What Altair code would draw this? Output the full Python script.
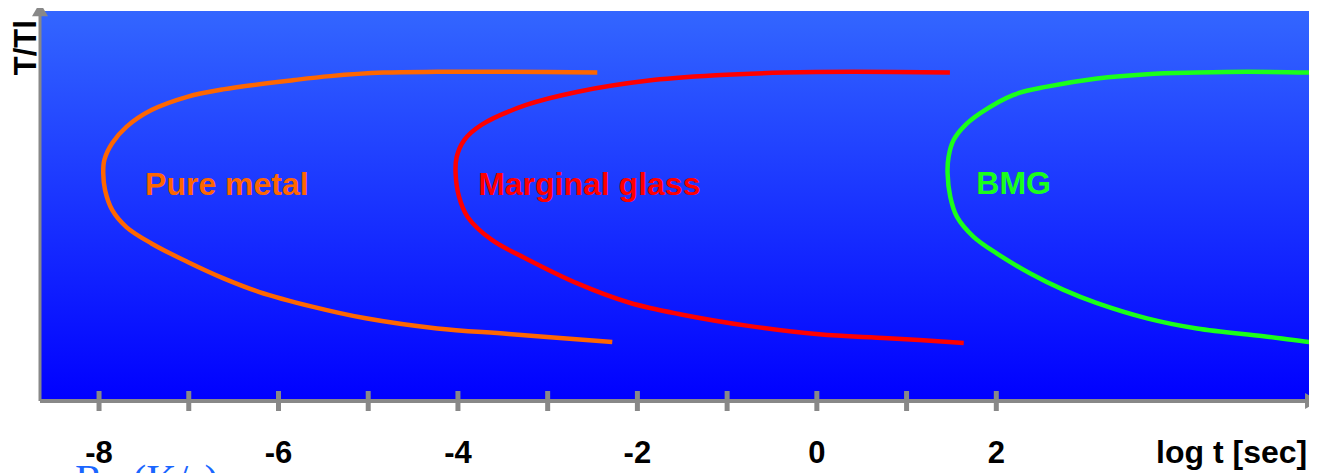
import altair as alt
import pandas as pd

# ---------------- data ----------------
curve_names = ["Pure metal", "Marginal glass", "BMG"]
curve_colors = ["#FF6600", "#FF0000", "#1AFF1A"]

pm_x = [-2.447, -3.434, -4.231, -4.827, -5.425, -5.823, -6.619, -7.018, -7.416, -7.695,
        -7.854, -7.941, -7.953, -7.933, -7.854, -7.695, -7.416, -7.018, -6.619, -6.221,
        -5.624, -5.027, -4.231, -3.434, -2.280]
pm_y = [0.842, 0.844, 0.844, 0.842, 0.833, 0.823, 0.799, 0.780, 0.746, 0.703,
        0.661, 0.618, 0.584, 0.541, 0.490, 0.446, 0.404, 0.357, 0.315, 0.280,
        0.242, 0.212, 0.186, 0.172, 0.151]

mg_x = [1.483, 0.408, -0.359, -1.127, -1.895, -2.663, -3.239, -3.738, -3.930, -4.014,
        -4.026, -3.988, -3.892, -3.622, -3.239, -2.663, -2.087, -1.512, -0.744, 0.025,
        0.793, 1.637]
mg_y = [0.842, 0.844, 0.842, 0.835, 0.821, 0.793, 0.759, 0.708, 0.669, 0.626,
        0.584, 0.524, 0.472, 0.413, 0.365, 0.301, 0.252, 0.222, 0.192, 0.171,
        0.161, 0.149]

bmg_x = [5.519, 4.795, 4.237, 3.680, 3.123, 2.565, 2.193, 1.822, 1.635, 1.524,
         1.468, 1.457, 1.487, 1.562, 1.747, 2.008, 2.379, 2.750, 3.123, 3.680,
         4.237, 4.980, 5.579, 5.750]
bmg_y = [0.842, 0.844, 0.842, 0.838, 0.827, 0.806, 0.785, 0.738, 0.703, 0.669,
         0.626, 0.584, 0.524, 0.472, 0.421, 0.378, 0.327, 0.285, 0.251, 0.212,
         0.186, 0.166, 0.149, 0.146]

label_x = [-7.487, -3.775, 1.777]
label_y = [0.528, 0.527, 0.531]

tick_values = [-8, -7, -6, -5, -4, -3, -2, -1, 0, 1, 2]
tick_labels = [-8, -6, -4, -2, 0, 2]

x_title = "log t [sec]"
y_title = "T/Tl"
bottom_note = "Rc (K/s)"

# ---------------- layout ----------------
X_MIN, X_MAX = -8.658, 5.485
W, H = 1269, 390
LABEL_Y = -0.159
FONT = "Liberation Sans"
GRAY = "#888888"

xs = alt.Scale(domain=[X_MIN, X_MAX], nice=False, zero=False)
ys = alt.Scale(domain=[0, 1], nice=False, zero=False)


def X(f):
    return alt.X(f, type="quantitative", scale=xs, axis=None)


def Y(f):
    return alt.Y(f, type="quantitative", scale=ys, axis=None)


rows = []
for name, xv, yv in [("Pure metal", pm_x, pm_y), ("Marginal glass", mg_x, mg_y), ("BMG", bmg_x, bmg_y)]:
    for i, (a, b) in enumerate(zip(xv, yv)):
        rows.append({"curve": name, "order": i, "x": a, "y": b})
curves_df = pd.DataFrame(rows)

labels_df = pd.DataFrame({"curve": curve_names, "x": label_x, "y": label_y})
color_enc = alt.Color("curve:N", scale=alt.Scale(domain=curve_names, range=curve_colors), legend=None)

# background gradient
bg = alt.Chart(pd.DataFrame({"x": [X_MIN], "x2": [X_MAX], "y": [0.0], "y2": [1.0]})).mark_rect(
    color=alt.LinearGradient(
        gradient="linear",
        stops=[alt.GradientStop(color="#3366FF", offset=0), alt.GradientStop(color="#0000FF", offset=1)],
        x1=0, x2=0, y1=0, y2=1,
    )
).encode(x=X("x"), x2="x2", y=Y("y"), y2="y2")

lines = alt.Chart(curves_df).mark_line(strokeWidth=4.5, interpolate="catmull-rom", clip=True).encode(
    x=X("x"), y=Y("y"), color=color_enc, order="order:Q"
)

curve_text = alt.Chart(labels_df).mark_text(
    align="left", baseline="alphabetic", fontSize=32, fontWeight="bold", font=FONT
).encode(x=X("x"), y=Y("y"), text="curve:N", color=color_enc)

# axes drawn as marks
x_axis = alt.Chart(pd.DataFrame({"x": [X_MIN], "x2": [5.6], "y": [0.0]})).mark_rule(
    color=GRAY, strokeWidth=4
).encode(x=X("x"), x2="x2", y=Y("y"))

y_axis = alt.Chart(pd.DataFrame({"x": [X_MIN], "y": [0.0], "y2": [0.987]})).mark_rule(
    color=GRAY, strokeWidth=3
).encode(x=X("x"), y=Y("y"), y2="y2")

arrow_up = alt.Chart(pd.DataFrame({"x": [X_MIN], "y": [1.004]})).mark_point(
    shape="triangle-up", filled=True, size=256, color=GRAY, opacity=1
).encode(x=X("x"), y=Y("y"))

arrow_right = alt.Chart(pd.DataFrame({"x": [5.518], "y": [0.0]})).mark_point(
    shape="triangle-right", filled=True, size=256, color=GRAY, opacity=1
).encode(x=X("x"), y=Y("y"))

ticks = alt.Chart(pd.DataFrame({"x": tick_values, "y": [0.0256] * len(tick_values),
                                "y2": [-0.0256] * len(tick_values)})).mark_rule(
    color=GRAY, strokeWidth=5
).encode(x=X("x"), y=Y("y"), y2="y2")

tick_text = alt.Chart(pd.DataFrame({"x": tick_labels, "y": [LABEL_Y] * len(tick_labels),
                                    "t": [str(v) for v in tick_labels]})).mark_text(
    align="center", baseline="alphabetic", fontSize=31, fontWeight="bold", font=FONT, color="black"
).encode(x=X("x"), y=Y("y"), text="t:N")

xtitle = alt.Chart(pd.DataFrame({"x": [5.465], "y": [LABEL_Y], "t": [x_title]})).mark_text(
    align="right", baseline="alphabetic", fontSize=32, fontWeight="bold", font=FONT, color="black"
).encode(x=X("x"), y=Y("y"), text="t:N")

ytitle = alt.Chart(pd.DataFrame({"x": [-8.702], "y": [0.906], "t": [y_title]})).mark_text(
    align="center", baseline="alphabetic", angle=270, fontSize=31, fontWeight="bold", font=FONT, color="black"
).encode(x=X("x"), y=Y("y"), text="t:N")

note = alt.Chart(pd.DataFrame({"x": [-8.268], "y": [-0.238], "t": [bottom_note]})).mark_text(
    align="left", baseline="alphabetic", fontSize=42, font="Liberation Serif", color="#1A66FF"
).encode(x=X("x"), y=Y("y"), text="t:N")

chart = alt.layer(
    bg, lines, curve_text, x_axis, y_axis, ticks, arrow_up, arrow_right, tick_text, xtitle, ytitle, note
).properties(
    width=W, height=H,
    padding={"left": 32, "top": 3, "right": 0, "bottom": 72},
    autosize=alt.AutoSizeParams(type="none"),
    background="white",
).configure_view(stroke=None)

chart.save("out.html", embed_options={"renderer": "svg", "actions": False})
